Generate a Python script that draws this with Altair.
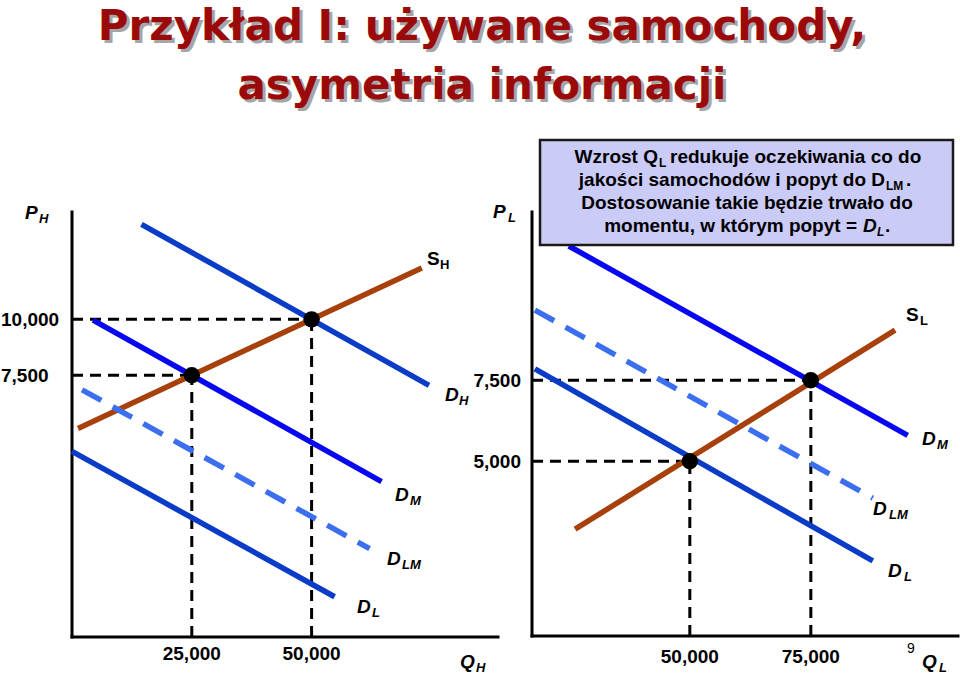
import altair as alt
import pandas as pd

# ---------------- data ----------------
TITLE_LINES = ["Przykład I: używane samochody,", "asymetria informacji"]
BOX_LINE3 = "Dostosowanie takie będzie trwało do"

# Left panel: market for high-quality cars (H)
H_Q_DOMAIN = [0, 88900]
H_P_DOMAIN = [-4200, 14800]
QH_TICKS = [25000, 50000]
PH_TICKS = [10000, 7500]
H_CURVES = ["D_H", "S_H", "D_M", "D_LM", "D_L"]
H_Q0 = [14500, 1250, 4400, 2100, 0]
H_P0 = [14250, 5125, 9970, 6850, 4100]
H_Q1 = [74500, 73000, 64600, 62100, 54800]
H_P1 = [7050, 12300, 2750, -250, -2400]
H_EQ_Q = [50000, 25000]
H_EQ_P = [10000, 7500]

# Right panel: market for low-quality cars (L)
L_Q_DOMAIN = [17400, 105400]
L_P_DOMAIN = [-400, 12700]
QL_TICKS = [50000, 75000]
PL_TICKS = [7500, 5000]
L_CURVES = ["D_M", "S_L", "D_LM", "D_L"]
L_Q0 = [25000, 26300, 18000, 18000]
L_P0 = [11650, 2900, 9670, 7850]
L_Q1 = [95000, 92400, 87800, 87800]
L_P1 = [5800, 9050, 3860, 1920]
L_EQ_Q = [75000, 50000]
L_EQ_P = [7500, 5000]

CURVE_NAMES = ["D_H", "S_H", "D_M", "D_LM", "D_L", "S_L"]
CURVE_COLORS = ["#0A3CC8", "#A8400C", "#0808F0", "#3C6EF0", "#0A3CC8", "#A8400C"]

FONT = "Liberation Sans"
TITLE_FONT = "DejaVu Sans"
color_scale = alt.Scale(domain=CURVE_NAMES, range=CURVE_COLORS)


def txt(text, x, y, size, align="left", weight="bold", style="normal",
        color="black", font=FONT, baseline="alphabetic"):
    return alt.Chart(pd.DataFrame({"t": [text]})).mark_text(
        align=align, baseline=baseline, fontSize=size, fontWeight=weight,
        fontStyle=style, font=font, color=color
    ).encode(x=alt.value(x), y=alt.value(y), text="t:N")


def panel(qdom, pdom, qrange, prange, names, q0, p0, q1, p1, eq_q, eq_p,
          q_ticks, p_ticks, qtick_y, ptick_x, ptick_align):
    xs = alt.Scale(domain=qdom, range=qrange, nice=False, zero=False)
    ys = alt.Scale(domain=pdom, range=prange, nice=False, zero=False)

    def enc_seg():
        return dict(
            x=alt.X("q0:Q", scale=xs, axis=None),
            x2="q1:Q",
            y=alt.Y("p0:Q", scale=ys, axis=None),
            y2="p1:Q",
        )

    layers = []
    # axes
    axes = pd.DataFrame({
        "q0": [qdom[0], qdom[0]], "q1": [qdom[1], qdom[0]],
        "p0": [pdom[0], pdom[0]], "p1": [pdom[0], pdom[1]],
    })
    layers.append(alt.Chart(axes).mark_rule(color="black", strokeWidth=3,
                                            strokeCap="square").encode(**enc_seg()))
    # dashed guides
    guides = pd.DataFrame({
        "q0": [qdom[0]] * len(eq_q) + list(eq_q),
        "q1": list(eq_q) + list(eq_q),
        "p0": list(eq_p) + [pdom[0]] * len(eq_p),
        "p1": list(eq_p) + list(eq_p),
    })
    layers.append(alt.Chart(guides).mark_rule(color="black", strokeWidth=3,
                                              strokeDash=[11, 7]).encode(**enc_seg()))
    curves = pd.DataFrame({"curve": names, "q0": q0, "p0": p0, "q1": q1, "p1": p1})
    solid = curves[curves.curve != "D_LM"]
    dashed = curves[curves.curve == "D_LM"]
    layers.append(alt.Chart(solid).mark_rule(strokeWidth=5.5).encode(
        color=alt.Color("curve:N", scale=color_scale, legend=None), **enc_seg()))
    layers.append(alt.Chart(dashed).mark_rule(strokeWidth=5.5, strokeDash=[22, 13]).encode(
        color=alt.Color("curve:N", scale=color_scale, legend=None), **enc_seg()))
    # equilibrium points
    eq = pd.DataFrame({"q": eq_q, "p": eq_p})
    layers.append(alt.Chart(eq).mark_circle(size=270, color="black", opacity=1).encode(
        x=alt.X("q:Q", scale=xs, axis=None), y=alt.Y("p:Q", scale=ys, axis=None)))
    # tick labels
    qt = pd.DataFrame({"q": q_ticks})
    layers.append(alt.Chart(qt).mark_text(font=FONT, fontSize=19, fontWeight="bold",
                                          align="center", baseline="alphabetic").encode(
        x=alt.X("q:Q", scale=xs, axis=None), y=alt.value(qtick_y),
        text=alt.Text("q:Q", format=",")))
    pt = pd.DataFrame({"p": p_ticks})
    layers.append(alt.Chart(pt).mark_text(font=FONT, fontSize=19, fontWeight="bold",
                                          align=ptick_align, baseline="middle", dy=1).encode(
        y=alt.Y("p:Q", scale=ys, axis=None), x=alt.value(ptick_x),
        text=alt.Text("p:Q", format=",")))
    return layers


layers = []
# title with shadow
for line, base in zip(TITLE_LINES, [40, 99]):
    layers.append(txt(line, 485, base + 3, 42, align="center", color="#A6A6A6", font=TITLE_FONT))
    layers.append(txt(line, 482, base, 42, align="center", color="#9B0A0A", font=TITLE_FONT))

layers += panel(H_Q_DOMAIN, H_P_DOMAIN, [72, 498], [637, 212], H_CURVES,
                H_Q0, H_P0, H_Q1, H_P1, H_EQ_Q, H_EQ_P, QH_TICKS, PH_TICKS,
                660, 1, "left")
layers += panel(L_Q_DOMAIN, L_P_DOMAIN, [532, 958], [636, 212], L_CURVES,
                L_Q0, L_P0, L_Q1, L_P1, L_EQ_Q, L_EQ_P, QL_TICKS, PL_TICKS,
                663, 521, "right")

# curve / axis labels: (main, sub, x, y, sub_x, italic)
LABELS = [
    ("P", "H", 25, 219, 39, True),
    ("S", "H", 427, 265, 440, False),
    ("D", "H", 445, 401, 459, True),
    ("D", "M", 395, 501, 410, True),
    ("D", "LM", 387, 565, 402, True),
    ("D", "L", 357, 613, 372, True),
    ("Q", "H", 460, 668, 476, True),
    ("P", "L", 493, 218, 508, True),
    ("S", "L", 906, 321, 920, False),
    ("D", "M", 922, 445, 937, True),
    ("D", "LM", 873, 515, 889, True),
    ("D", "L", 888, 577, 904, True),
    ("Q", "L", 922, 668, 939, True),
]
for main, sub, x, y, sx, it in LABELS:
    st = "italic" if it else "normal"
    layers.append(txt(main, x, y, 19, style=st))
    layers.append(txt(sub, sx, y + 4, 13, style=st))

layers.append(txt("9", 907, 653, 14, weight="normal"))

# explanatory box
layers.append(alt.Chart(pd.DataFrame({"a": [0]})).mark_rect(
    fill="#CBCBF7", stroke="#1A1A1A", strokeWidth=2.5).encode(
    x=alt.value(540), x2=alt.value(953), y=alt.value(140), y2=alt.value(245)))
layers += [
    txt("Wzrost  Q", 658, 163, 19, align="right"),
    txt("L", 659, 167, 12),
    txt("redukuje oczekiwania co do", 670, 163, 19),
    txt("jakości samochodów i popyt  do D", 885, 186, 19, align="right"),
    txt("LM", 886, 190, 12),
    txt(".", 906, 186, 19),
    txt(BOX_LINE3, 747, 209, 19, align="center"),
    txt("momentu, w którym popyt =", 857, 232, 19, align="right"),
    txt("D", 863, 232, 19, style="italic"),
    txt("L", 877, 236, 12, style="italic"),
    txt(".", 885, 232, 19),
]

chart = alt.layer(*layers).resolve_scale(
    x="independent", y="independent"
).properties(
    width=960, height=676,
    autosize=alt.AutoSizeParams(type="none"),
    padding=0,
    background="white",
).configure_view(stroke=None)

chart.save("out.html", embed_options={"renderer": "svg", "actions": False})
